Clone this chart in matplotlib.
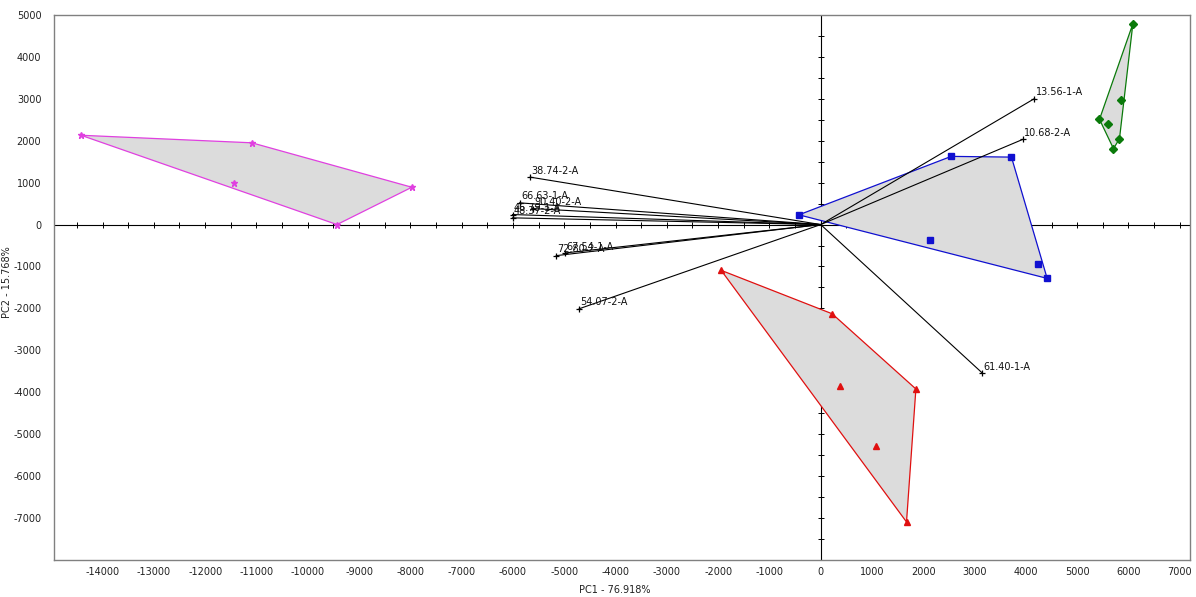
import matplotlib
matplotlib.use("Agg")
import matplotlib.pyplot as plt
from matplotlib.patches import Polygon
import numpy as np

plt.rcParams["axes.unicode_minus"] = False

# score groups (PC1, PC2)
magenta_x = [-14420, -11090, -7970, -9430, -11430]
magenta_y = [2130, 1950, 890, 0, 980]
green_x = [6086, 5858, 5435, 5598, 5825, 5708]
green_y = [4789, 2981, 2510, 2407, 2049, 1810]
blue_x = [-425, 2544, 3719, 4415, 4246, 2140]
blue_y = [232, 1626, 1609, -1284, -940, -375]
red_x = [-1940, 224, 1856, 380, 1076, 1673]
red_y = [-1092, -2128, -3921, -3849, -5276, -7093]

# loadings (scaled)
load_names = ["13.56-1-A", "10.68-2-A", "61.40-1-A", "38.74-2-A", "66.63-1-A",
              "90.40-2-A", "46.79-1-A", "48.37-2-A", "67.54-1-A", "72.80-2-A",
              "54.07-2-A"]
load_x = [4168, 3941, 3148, -5663, -5871, -5618, -6008, -6008, -4980, -5156, -4708]
load_y = [3005, 2032, -3538, 1131, 518, 382, 239, 160, -677, -741, -2008]

xticks = list(range(-14000, 7001, 1000))
yticks = list(range(-7000, 5001, 1000))


def hull(xs, ys):
    pts = sorted(set(zip(xs, ys)))

    def cross(o, a, b):
        return (a[0] - o[0]) * (b[1] - o[1]) - (a[1] - o[1]) * (b[0] - o[0])

    lower, upper = [], []
    for p in pts:
        while len(lower) >= 2 and cross(lower[-2], lower[-1], p) <= 0:
            lower.pop()
        lower.append(p)
    for p in reversed(pts):
        while len(upper) >= 2 and cross(upper[-2], upper[-1], p) <= 0:
            upper.pop()
        upper.append(p)
    return lower[:-1] + upper[:-1]


fig = plt.figure(figsize=(11.96, 5.97), dpi=100)
ax = fig.add_axes([0.045, 0.062, 0.95, 0.913])
ax.set_xlim(-14950, 7200)
ax.set_ylim(-8000, 5000)

# zero axes with small ticks every 500
ax.axhline(0, color="black", lw=0.8, zorder=1)
ax.axvline(0, color="black", lw=0.8, zorder=1)
tx = np.arange(-14500, 7001, 500)
ax.plot(tx, np.zeros_like(tx), "|", color="black", ms=4, mew=0.7, zorder=1)
ty = np.arange(-7500, 5001, 500)
ax.plot(np.zeros_like(ty), ty, "_", color="black", ms=4, mew=0.7, zorder=1)

groups = [
    (magenta_x, magenta_y, "#e040e0", "*", 5),
    (green_x, green_y, "#0a7a0a", "D", 4),
    (blue_x, blue_y, "#1010d0", "s", 4),
    (red_x, red_y, "#e01010", "^", 5),
]
for gx, gy, col, mk, ms in groups:
    h = hull(gx, gy)
    ax.add_patch(Polygon(h, closed=True, facecolor="#dcdcdc", edgecolor=col,
                         lw=0.9, zorder=2))
    ax.plot(gx, gy, ls="none", marker=mk, color=col, ms=ms, zorder=4)

for name, lx, ly in zip(load_names, load_x, load_y):
    ax.plot([0, lx], [0, ly], color="black", lw=0.8, zorder=3)
    ax.plot(lx, ly, marker="+", color="black", ms=5, mew=0.9, zorder=4)
    ax.annotate(name, (lx, ly), xytext=(1, 1), textcoords="offset points",
                ha="left", va="bottom", fontsize=7, color="#111111", zorder=5)

ax.set_xticks(xticks)
ax.set_yticks(yticks)
ax.tick_params(length=0, labelsize=7, labelcolor="#222222")
ax.tick_params(axis="y", pad=9)
ax.tick_params(axis="x", pad=5)
for s in ax.spines.values():
    s.set_color("#808080")
    s.set_linewidth(1.0)

ax.set_xlabel("PC1 - 76.918%", fontsize=7, color="#222222")
ax.set_ylabel("PC2 - 15.768%", fontsize=7, color="#222222")
ax.xaxis.set_label_coords(0.494, -0.045)
ax.yaxis.set_label_coords(-0.037, 0.51)

fig.savefig("out.png", dpi=100)
